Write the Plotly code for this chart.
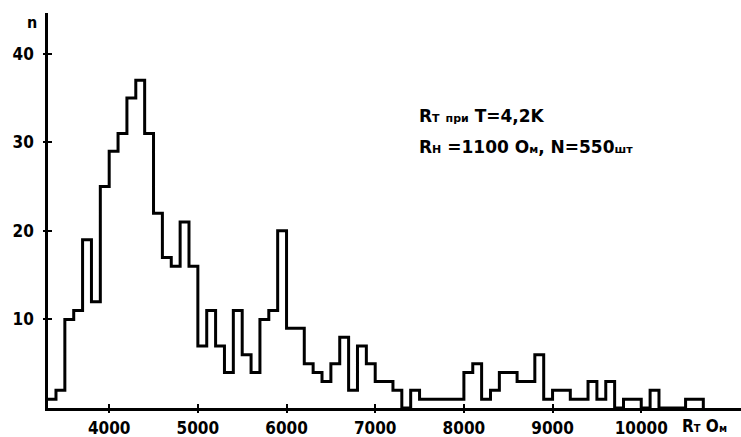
import plotly.graph_objects as go

# Histogram data: bins of width 100 Ohm starting at 3300
bin_width = 100
bin_starts = list(range(3300, 10700, 100))
counts = [1, 2, 10, 11, 19, 12, 25, 29, 31, 35,
          37, 31, 22, 17, 16, 21, 16, 7, 11, 7,
          4, 11, 6, 4, 10, 11, 20, 9, 9, 5,
          4, 3, 5, 8, 2, 7, 5, 3, 3, 2,
          0, 2, 1, 1, 1, 1, 1, 4, 5, 1,
          2, 4, 4, 3, 3, 6, 1, 2, 2, 1,
          1, 3, 1, 3, 0, 1, 1, 0, 2, 0,
          0, 0, 1, 1]

x_ticks = [4000, 5000, 6000, 7000, 8000, 9000, 10000]
y_ticks = [10, 20, 30, 40]

TFONT = "DejaVu Sans Condensed, Liberation Sans Narrow, DejaVu Sans, sans-serif"
AFONT = "DejaVu Sans, sans-serif"

x_steps = bin_starts + [bin_starts[-1] + bin_width]
y_steps = counts + [0]

fig = go.Figure()
fig.add_trace(go.Scatter(
    x=x_steps, y=y_steps, mode="lines",
    line=dict(shape="hv", color="black", width=3),
    showlegend=False, hoverinfo="skip"))
# empty traces to create overlay axes that draw the crossing tick marks
fig.add_trace(go.Scatter(x=[], y=[], xaxis="x2", yaxis="y2", showlegend=False))
fig.add_trace(go.Scatter(x=[], y=[], xaxis="x3", yaxis="y3", showlegend=False))

xr = [3310, 11125]
yr = [0, 44.6]
tickfont = dict(family=TFONT, size=17, color="black", weight="bold")
tk = dict(ticklen=4, tickwidth=2, tickcolor="black", showticklabels=False,
          showgrid=False, zeroline=False, showline=False)

fig.update_layout(
    width=741, height=437,
    margin=dict(l=48, r=0, t=13, b=29),
    paper_bgcolor="white", plot_bgcolor="white",
    font=dict(family=TFONT, size=17, color="black", weight="bold"),
    xaxis=dict(range=xr, tickvals=x_ticks, ticktext=[str(v) for v in x_ticks],
               showgrid=False, zeroline=False, showline=True, linecolor="black",
               linewidth=2.5, ticks="", ticklabelstandoff=3,
               automargin=False, tickfont=tickfont),
    yaxis=dict(range=yr, tickvals=y_ticks, ticktext=[str(v) for v in y_ticks],
               showgrid=False, zeroline=False, showline=True, linecolor="black",
               linewidth=2.5, ticks="", ticklabelstandoff=8,
               automargin=False, tickfont=tickfont),
    xaxis2=dict(range=xr, overlaying="x", tickvals=x_ticks, ticks="outside",
                side="bottom", **tk),
    yaxis2=dict(range=yr, overlaying="y", tickvals=y_ticks, ticks="outside",
                side="left", **tk),
    xaxis3=dict(range=xr, overlaying="x", tickvals=x_ticks, ticks="inside",
                side="bottom", **tk),
    yaxis3=dict(range=yr, overlaying="y", tickvals=y_ticks, ticks="inside",
                side="left", **tk),
)

small = "font-size:11px"
afont = dict(family=AFONT, size=17, color="black", weight="bold")
fig.add_annotation(
    xref="paper", yref="paper", x=0.532, y=0.739, xanchor="left", yanchor="middle",
    showarrow=False, font=afont,
    text=f"R<span style='{small}'>T</span> <span style='{small}'>при</span> T=4,2K")
fig.add_annotation(
    xref="paper", yref="paper", x=0.532, y=0.661, xanchor="left", yanchor="middle",
    showarrow=False, font=afont,
    text=(f"R<span style='{small}'>H</span> =1100 О<span style='{small}'>м</span>, "
          f"N=550<span style='{small}'>шт</span>"))
fig.add_annotation(
    xref="paper", yref="paper", x=-0.023, y=0.977, xanchor="center", yanchor="middle",
    showarrow=False, font=dict(family=TFONT, size=16, color="black", weight="bold"),
    text="n")
fig.add_annotation(
    xref="paper", yref="paper", x=0.947, y=-0.045, xanchor="center", yanchor="middle",
    showarrow=False, font=dict(family=TFONT, size=17, color="black", weight="bold"),
    text=f"R<span style='{small}'>T</span> О<span style='{small}'>м</span>")

fig.write_html("out.html", config={"displayModeBar": False},
               post_script="document.body.style.margin='0px';")
